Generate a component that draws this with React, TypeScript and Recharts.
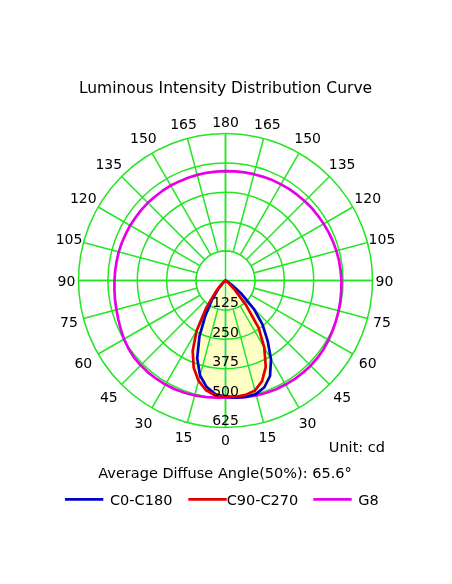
import React from 'react';
import { RadarChart, Radar, PolarGrid, PolarAngleAxis, PolarRadiusAxis } from 'recharts';

// gamma angles 0..180 step 5 for each half-plane
const GAMMA = [0,5,10,15,20,25,30,35,40,45,50,55,60,65,70,75,80,85,90,95,100,105,110,115,120,125,130,135,140,145,150,155,160,165,170,175,180];

// C0-C180 (blue): right half C0, left half C180 (cd)
const C0 = [494,500,503,500,483,448,387,312,245,170,90,35,10,0,0,0,0,0,0,0,0,0,0,0,0,0,0,0,0,0,0,0,0,0,0,0,0];
const C180 = [494,486,460,418,352,262,170,100,50,20,6,0,0,0,0,0,0,0,0,0,0,0,0,0,0,0,0,0,0,0,0,0,0,0,0,0,0];
// C90-C270 (red)
const C90 = [494,496,494,484,455,405,330,245,135,55,20,5,0,0,0,0,0,0,0,0,0,0,0,0,0,0,0,0,0,0,0,0,0,0,0,0,0];
const C270 = [494,491,474,442,395,330,245,145,70,35,12,3,0,0,0,0,0,0,0,0,0,0,0,0,0,0,0,0,0,0,0,0,0,0,0,0,0];
// G8 (magenta)
const G8_RIGHT = [498,500,503,506,508,510,511,512,512,512,511,509,506,503,500,498,496,494,493,491,490,488,486,484,482,480,479,477,475,474,472,471,469,468,467,466,465];
const G8_LEFT = [498,500,503,506,508,510,511,511,511,510,508,504,498,491,485,480,477,474,472,471,470,470,469,468,468,467,467,467,466,466,466,465,465,465,465,465,465];

const ANGLE_TICKS = [0,15,30,45,60,75,90,105,120,135,150,165,180,195,210,225,240,255,270,285,300,315,330,345];
const RADIUS_TICKS = [125,250,375,500,625];
const RADIUS_MAX = 625;
const HOLE = 125;

const SERIES = [
  { key: 'g8', name: 'G8', color: '#e600e6' },
  { key: 'blue', name: 'C0-C180', color: '#0000cc' },
  { key: 'red', name: 'C90-C270', color: '#e00000' },
];

// positions around the full circle: 0 bottom, 90 left, 180 top, 270 right
const PHI: number[] = [];
GAMMA.forEach((g) => PHI.push(g));
GAMMA.slice(1, -1).reverse().forEach((g) => PHI.push(360 - g));

const data = PHI.map((phi) => {
  const left = phi <= 180;
  const idx = GAMMA.indexOf(left ? phi : 360 - phi);
  return {
    phi,
    blue: left ? C180[idx] : C0[idx],
    red: left ? C270[idx] : C90[idx],
    g8: left ? G8_LEFT[idx] : G8_RIGHT[idx],
    hole: HOLE,
  };
});

const GRID = '#22e622';
const GRID_W = 1.5;
const FONT = '"DejaVu Sans", Verdana, sans-serif';

const AngleTick = (props: any) => {
  const { x, y, payload } = props;
  const v = payload.value;
  const a = (-payload.coordinate * Math.PI) / 180;
  const ux = Math.cos(a);
  const uy = Math.sin(a);
  const extra = 6 * Math.abs(Math.sin(2 * a));
  return (
    <text x={x + ux * extra} y={y + uy * extra} dy="0.36em" textAnchor="middle" fontSize={14} fontFamily={FONT} fill="#000">
      {v <= 180 ? v : 360 - v}
    </text>
  );
};

const RadiusTick = (props: any) => {
  const { x, y, payload } = props;
  return (
    <text x={x} y={y - 7.5} dy="0.36em" textAnchor="middle" fontSize={14} fontFamily={FONT} fill="#000">
      {payload.value}
    </text>
  );
};

export default function App() {
  const crossAngles = [-90, -180, -270, -360];
  return (
    <div style={{ position: 'absolute', left: 0, top: 0, width: 452, height: 584, background: '#fff' }}>
      <style>{'.yfill{mix-blend-mode:darken}'}</style>
      <RadarChart
        width={452}
        height={584}
        data={data}
        cx={225.5}
        cy={280.5}
        outerRadius={147}
        startAngle={-90}
        endAngle={-450}
        margin={{ top: 0, right: 0, bottom: 0, left: 0 }}
      >
        <PolarGrid gridType="circle" stroke={GRID} strokeWidth={GRID_W} zIndex={-100} />
        <PolarAngleAxis
          dataKey="phi"
          type="number"
          domain={[0, 360]}
          ticks={ANGLE_TICKS}
          axisLine={false}
          tickLine={false}
          tickSize={12}
          tick={AngleTick}
        />
        <PolarRadiusAxis
          angle={-90}
          type="number"
          domain={[0, RADIUS_MAX]}
          ticks={RADIUS_TICKS}
          axisLine={false}
          tick={RadiusTick}
        />
        <Radar dataKey="hole" stroke={GRID} strokeWidth={GRID_W} fill="#ffffff" fillOpacity={1} dot={false} isAnimationActive={false} zIndex={-90} />
        <PolarGrid gridType="circle" stroke={GRID} strokeWidth={GRID_W} polarAngles={crossAngles} polarRadius={[]} zIndex={-80} />
        <Radar dataKey="blue" className="yfill" stroke="none" fill="#ffffc4" fillOpacity={1} dot={false} isAnimationActive={false} />
        <Radar dataKey="red" className="yfill" stroke="none" fill="#ffffc4" fillOpacity={1} dot={false} isAnimationActive={false} />
        {SERIES.map((s) => (
          <Radar
            key={s.key}
            dataKey={s.key}
            name={s.name}
            stroke={s.color}
            strokeWidth={2.7}
            strokeLinejoin="round"
            fill="none"
            dot={false}
            isAnimationActive={false}
          />
        ))}
      </RadarChart>
      <svg width={452} height={584} style={{ position: 'absolute', left: 0, top: 0, pointerEvents: 'none' }}>
        <text x={225.5} y={93.3} textAnchor="middle" fontSize={15.5} fontFamily={FONT} fill="#000">
          Luminous Intensity Distribution Curve
        </text>
        <text x={385} y={451.7} textAnchor="end" fontSize={14.5} fontFamily={FONT} fill="#000">
          Unit: cd
        </text>
        <text x={225} y={477.7} textAnchor="middle" fontSize={14.5} fontFamily={FONT} fill="#000">
          Average Diffuse Angle(50%): 65.6°
        </text>
        <line x1={65} x2={103.3} y1={499.3} y2={499.3} stroke={SERIES[1].color} strokeWidth={2.7} />
        <text x={110} y={504.6} fontSize={14.5} fontFamily={FONT} fill="#000">{SERIES[1].name}</text>
        <line x1={188.3} x2={226.7} y1={499.3} y2={499.3} stroke={SERIES[2].color} strokeWidth={2.7} />
        <text x={226.7} y={504.6} fontSize={14.5} fontFamily={FONT} fill="#000">{SERIES[2].name}</text>
        <line x1={313.3} x2={351.7} y1={499.3} y2={499.3} stroke={SERIES[0].color} strokeWidth={2.7} />
        <text x={358.3} y={504.6} fontSize={14.5} fontFamily={FONT} fill="#000">{SERIES[0].name}</text>
      </svg>
    </div>
  );
}
